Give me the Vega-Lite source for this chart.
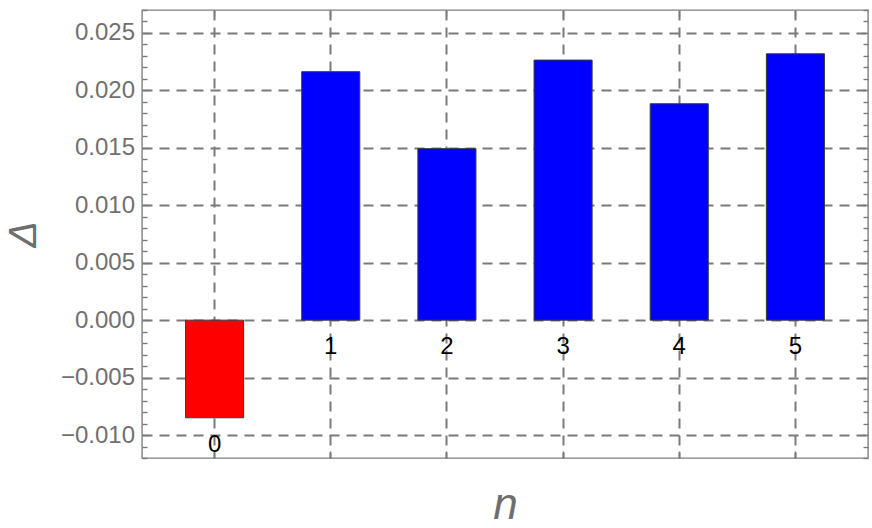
{
  "$schema": "https://vega.github.io/schema/vega-lite/v6.json",
  "width": 726,
  "height": 448,
  "autosize": {"type": "none"},
  "padding": {"left": 142, "top": 10, "right": 4, "bottom": 70},
  "background": "white",
  "config": {
    "view": {"stroke": "#808080", "strokeWidth": 1.4},
    "axis": {
      "domain": false,
      "tickColor": "#7a7a7a",
      "tickWidth": 1.4,
      "gridColor": "#7a7a7a",
      "gridDash": [10, 7],
      "gridWidth": 2,
      "labelFont": "Liberation Sans",
      "labelFontSize": 24,
      "labelColor": "#707070",
      "titleFont": "Liberation Sans",
      "titleFontStyle": "italic",
      "titleFontWeight": "normal",
      "titleColor": "#6e6e6e"
    }
  },
  "data": {
    "values": [
      {"n": "0", "v": -0.0085},
      {"n": "1", "v": 0.02163},
      {"n": "2", "v": 0.01493},
      {"n": "3", "v": 0.02264},
      {"n": "4", "v": 0.01884},
      {"n": "5", "v": 0.02319}
    ]
  },
  "layer": [
    {
      "mark": {"type": "bar", "stroke": "#3a3a3a", "strokeWidth": 1},
      "encoding": {
        "x": {
          "field": "n",
          "type": "nominal",
          "scale": {"paddingInner": 0.5, "paddingOuter": 0.375},
          "axis": {
            "orient": "bottom",
            "labels": false,
            "tickSize": -7,
            "grid": true,
            "title": "n",
            "titleFontSize": 44,
            "titleBaseline": "alphabetic",
            "titlePadding": 60
          }
        },
        "y": {
          "field": "v",
          "type": "quantitative",
          "scale": {"domain": [-0.012, 0.027], "nice": false, "zero": false},
          "axis": {
            "orient": "left",
            "values": [-0.012, -0.011, -0.01, -0.009, -0.008, -0.007, -0.006, -0.005, -0.004, -0.003, -0.002, -0.001, 0, 0.001, 0.002, 0.003, 0.004, 0.005, 0.006, 0.007, 0.008, 0.009, 0.01, 0.011, 0.012, 0.013, 0.014, 0.015, 0.016, 0.017, 0.018, 0.019, 0.02, 0.021, 0.022, 0.023, 0.024, 0.025, 0.026, 0.027],
            "tickSize": -7,
            "tickDash": {"condition": {"test": "abs(round(datum.value * 1000)) % 5 === 0", "value": []}, "value": [5, 30]},
            "gridOpacity": {"condition": {"test": "abs(round(datum.value * 1000)) % 5 === 0", "value": 1}, "value": 0},
            "labelExpr": "abs(round(datum.value * 1000)) % 5 === 0 ? replace(format(datum.value, '.3f'), '-', '−') : ''",
            "labelPadding": 14.5,
            "title": "Δ",
            "titleFontSize": 39,
            "titleBaseline": "alphabetic",
            "titlePadding": 25
          }
        },
        "color": {"condition": {"test": "datum.v < 0", "value": "#ff0000"}, "value": "#0000ff"}
      }
    },
    {
      "transform": [{"filter": "datum.v >= 0"}],
      "mark": {"type": "text", "baseline": "top", "dy": 15, "font": "Liberation Sans", "fontSize": 24, "fill": "#000000"},
      "encoding": {
        "x": {
          "field": "n",
          "type": "nominal",
          "axis": {"orient": "top", "labels": false, "tickSize": -6, "grid": false, "title": null}
        },
        "y": {
          "datum": 0,
          "type": "quantitative",
          "axis": {
            "orient": "right",
            "values": [-0.012, -0.011, -0.01, -0.009, -0.008, -0.007, -0.006, -0.005, -0.004, -0.003, -0.002, -0.001, 0, 0.001, 0.002, 0.003, 0.004, 0.005, 0.006, 0.007, 0.008, 0.009, 0.01, 0.011, 0.012, 0.013, 0.014, 0.015, 0.016, 0.017, 0.018, 0.019, 0.02, 0.021, 0.022, 0.023, 0.024, 0.025, 0.026, 0.027],
            "labels": false,
            "tickSize": -7,
            "tickDash": {"condition": {"test": "abs(round(datum.value * 1000)) % 5 === 0", "value": []}, "value": [5, 30]},
            "grid": false,
            "title": null
          }
        },
        "text": {"field": "n"}
      }
    },
    {
      "transform": [{"filter": "datum.v < 0"}],
      "mark": {"type": "text", "baseline": "top", "dy": 15, "font": "Liberation Sans", "fontSize": 24, "fill": "#000000"},
      "encoding": {
        "x": {"field": "n", "type": "nominal", "axis": null},
        "y": {"field": "v", "type": "quantitative", "axis": null},
        "text": {"field": "n"}
      }
    }
  ],
  "resolve": {"axis": {"x": "independent", "y": "independent"}}
}
